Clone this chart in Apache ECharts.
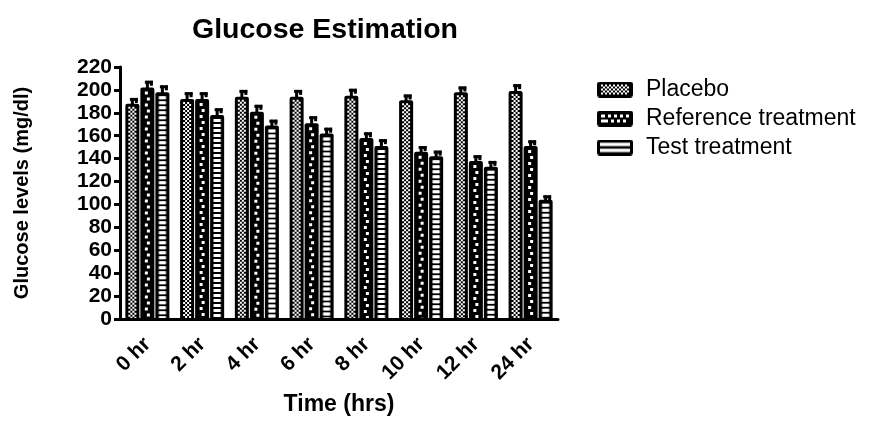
<!DOCTYPE html>
<html>
<head>
<meta charset="utf-8">
<script src="https://cdn.jsdelivr.net/npm/echarts@6/dist/echarts.min.js"></script>
<style>
  html, body { margin: 0; padding: 0; background: #fff; }
  #chart { width: 869px; height: 421px; }
</style>
</head>
<body>
<div id="chart"></div>
<script>
// Blood glucose (mg/dl) at each sampling time, mean and SD per group
const hours = ['0 hr', '2 hr', '4 hr', '6 hr', '8 hr', '10 hr', '12 hr', '24 hr'];
const groupNames = ['Placebo', 'Reference treatment', 'Test treatment'];
const placebo = [188, 192, 194, 194, 195, 191, 198, 199];
const reference = [202, 192, 181, 171, 158, 146, 138, 151];
const test = [198, 178, 169, 162, 151, 142, 133, 104];
const placeboSd = [5, 6, 6, 6, 6, 5, 5, 6];
const referenceSd = [6, 6, 6, 6, 5, 5, 5, 5];
const testSd = [6, 6, 5, 5, 6, 5, 5, 4];
const yMin = 0, yMax = 220, yStep = 20;

const FONT = '"Liberation Sans", Arial, sans-serif';

// Fill patterns: white shapes laid over a black bar body
function rectPath(x, y, w, h) {
  return 'M' + x + ' ' + y + 'h' + w + 'v' + h + 'h' + (-w) + 'Z';
}
function checkerPath(x, y, w, h) {
  // 2px checkerboard inside the inner area
  let d = '';
  const cols = Math.floor(w / 2);
  for (let r = 0; r * 2 < h; r++) {
    const ch = Math.min(2, h - r * 2);
    for (let c = 0; c < cols; c++) {
      if ((r + c) % 2 === 0) d += rectPath(x + c * 2, y + r * 2, 2, ch);
    }
  }
  return d;
}
function blockPath(x, y, w, h) {
  // staggered white blocks in a single column
  let d = '';
  for (let r = 0; r * 6 + 1 < h; r++) {
    const bh = Math.min(3, h - r * 6 - 1);
    const bx = x + (r % 2 === 0 ? 1.5 : 3.5);
    d += rectPath(bx, y + r * 6 + 1, 3, bh);
  }
  return d;
}
function ladderPath(x, y, w, h, inset) {
  // horizontal rungs: white rectangles separated by dark lines
  let d = '';
  for (let r = 0; r * 5 + 1 < h; r++) {
    const bh = Math.min(3, h - r * 5 - 1);
    d += rectPath(x + inset, y + r * 5 + 1, w - inset * 2, bh);
  }
  return d;
}

const patterns = [checkerPath, blockPath, ladderPath];

function makeRender(seriesIndex) {
  return function (params, api) {
    const idx = api.value(0);
    const v = api.value(1);
    const sd = api.value(2);
    const band = api.size([1, 0])[0];
    const step = band * 15 / 54.7;
    const w = band * 14 / 54.7;
    const base0 = api.coord([idx, 0]);
    const cx = base0[0] + (seriesIndex - 1) * step;
    const base = base0[1] - 1;
    const top = api.coord([idx, v])[1];
    const errTop = api.coord([idx, v + sd])[1];
    const x0 = cx - w / 2;
    const bw = 3;
    const ix = x0 + bw, iy = top + bw, iw = w - bw * 2, ih = base - top - bw;
    const children = [
      // error bar stem and cap
      { type: 'rect', shape: { x: cx - 1.5, y: errTop, width: 3, height: top - errTop + 1 }, style: { fill: '#000' } },
      { type: 'rect', shape: { x: cx - 2.5, y: errTop, width: 8, height: 3 }, style: { fill: '#000' } },
      { type: 'rect', shape: { x: cx + 2.5, y: errTop, width: 3, height: 5 }, style: { fill: '#000' } },
      // bar body
      { type: 'rect', shape: { x: x0, y: top, width: w, height: base - top, r: [2, 2, 0, 0] }, style: { fill: '#000' } }
    ];
    if (seriesIndex === 2) {
      children.push({ type: 'path', shape: { pathData: ladderPath(ix, iy, iw, ih, 0) }, style: { fill: '#9a9a9a' } });
      children.push({ type: 'path', shape: { pathData: ladderPath(ix, iy, iw, ih, 1) }, style: { fill: '#fff' } });
    } else {
      children.push({ type: 'path', shape: { pathData: patterns[seriesIndex](ix, iy, iw, ih) }, style: { fill: '#fff' } });
    }
    return { type: 'group', children: children };
  };
}

// Legend swatches drawn on a small canvas
function swatch(kind) {
  const c = document.createElement('canvas');
  c.width = 36; c.height = 16;
  const g = c.getContext('2d');
  g.fillStyle = '#000';
  g.beginPath();
  if (g.roundRect) g.roundRect(0, 0, 36, 16, 3); else g.rect(0, 0, 36, 16);
  g.fill();
  g.fillStyle = '#fff';
  if (kind === 0) {
    for (let r = 0; r < 5; r++) for (let cc = 0; cc < 14; cc++) {
      if ((r + cc) % 2 === 0) g.fillRect(4 + cc * 2, 3 + r * 2, 2, 2);
    }
  } else if (kind === 1) {
    g.fillRect(4, 4, 28, 3);
    g.fillRect(4, 9, 28, 3);
    g.fillStyle = '#000';
    for (let k = 0; k < 4; k++) { g.fillRect(8 + k * 6, 4, 3, 3); g.fillRect(11 + k * 6, 9, 3, 3); }
  } else {
    g.fillStyle = '#999';
    g.fillRect(3, 3, 30, 4); g.fillRect(3, 9, 30, 4);
    g.fillStyle = '#fff';
    g.fillRect(3, 3.5, 30, 2.5); g.fillRect(3, 9.5, 30, 2.5);
  }
  return 'image://' + c.toDataURL();
}

const values = [placebo, reference, test];
const sds = [placeboSd, referenceSd, testSd];

const series = groupNames.map(function (name, s) {
  return {
    name: name,
    type: 'custom',
    renderItem: makeRender(s),
    encode: { x: 0, y: 1 },
    data: hours.map(function (h, i) { return [i, values[s][i], sds[s][i]]; }),
    z: 2
  };
});

const chart = echarts.init(document.getElementById('chart'), null, { renderer: 'canvas' });
chart.setOption({
  animation: false,
  backgroundColor: '#fff',
  title: {
    text: 'Glucose Estimation',
    left: 320,
    top: 11,
    textAlign: 'center',
    textStyle: { fontFamily: FONT, fontWeight: 'bold', fontSize: 28.5, color: '#000' }
  },
  legend: {
    orient: 'vertical',
    left: 592,
    top: 73,
    itemWidth: 36,
    itemHeight: 16,
    itemGap: 6,
    selectedMode: false,
    textStyle: { fontFamily: FONT, fontSize: 23, color: '#000', padding: [0, 0, 0, 8] },
    data: groupNames.map(function (n, i) { return { name: n, icon: swatch(i) }; })
  },
  grid: { left: 120, top: 67, width: 438, height: 261, containLabel: false },
  xAxis: {
    type: 'category',
    data: hours,
    name: 'Time (hrs)',
    nameLocation: 'middle',
    nameGap: 74,
    nameTextStyle: { fontFamily: FONT, fontWeight: 'bold', fontSize: 23, color: '#000' },
    axisLine: { lineStyle: { color: '#000', width: 3 } },
    axisTick: { alignWithLabel: true, length: 7, lineStyle: { color: '#000', width: 3 } },
    axisLabel: { rotate: 45, margin: 22, fontFamily: FONT, fontWeight: 'bold', fontSize: 21, color: '#000' },
    z: 3
  },
  yAxis: {
    type: 'value',
    min: yMin,
    max: yMax,
    interval: yStep,
    name: 'Glucose levels (mg/dl)',
    nameLocation: 'middle',
    nameRotate: 90,
    nameGap: 88,
    nameTextStyle: { fontFamily: FONT, fontWeight: 'bold', fontSize: 20, color: '#000' },
    axisLine: { show: true, lineStyle: { color: '#000', width: 3 } },
    axisTick: { show: true, length: 6, lineStyle: { color: '#000', width: 3 } },
    axisLabel: { margin: 8, fontFamily: FONT, fontWeight: 'bold', fontSize: 21, color: '#000' },
    splitLine: { show: false },
    z: 3
  },
  series: series
});
</script>
</body>
</html>
